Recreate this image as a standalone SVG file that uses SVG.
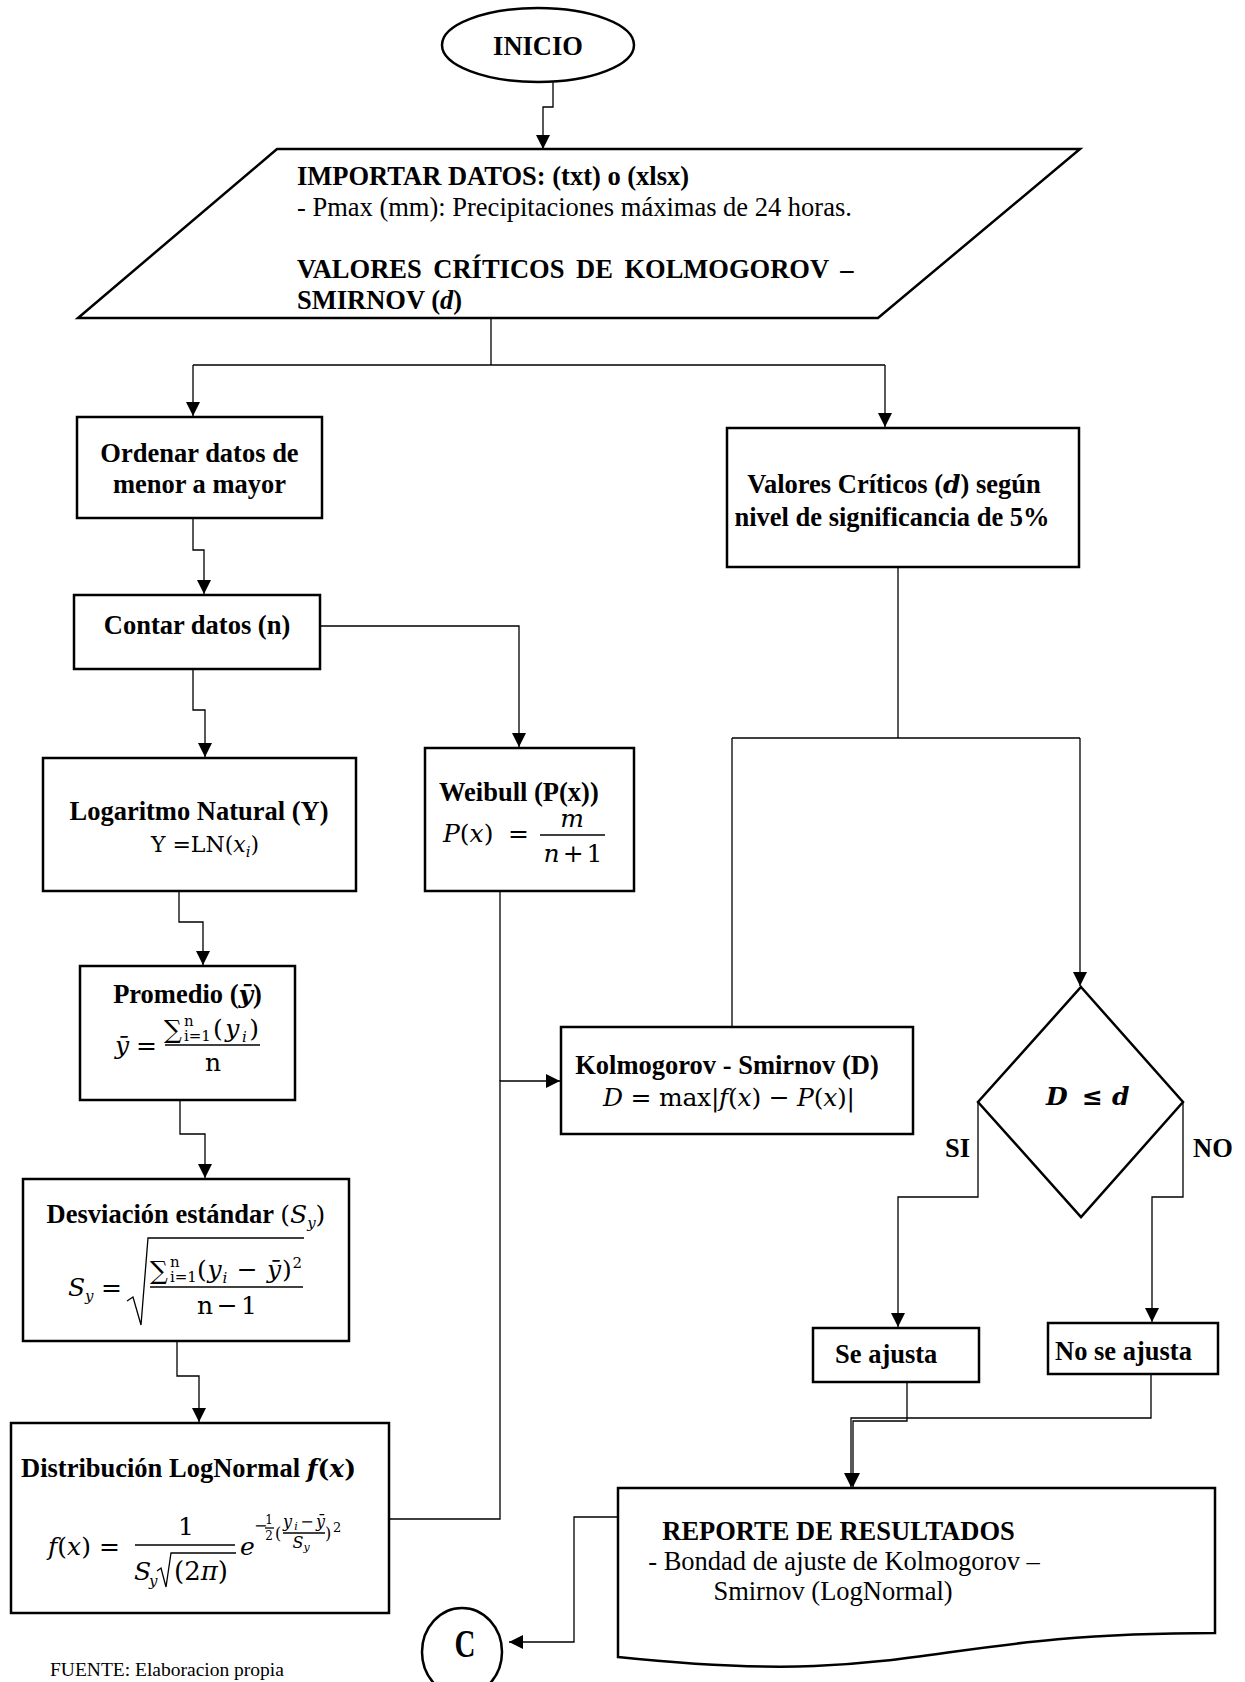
<svg xmlns="http://www.w3.org/2000/svg" width="1245" height="1682" viewBox="0 0 1245 1682">
<defs>
<style>
.shape{fill:#fff;stroke:#000;stroke-width:2.5}
.wire{fill:none;stroke:#000;stroke-width:1.3}
.rule{fill:none;stroke:#000;stroke-width:1.3}
text{font-family:"Liberation Serif","Times New Roman",serif;font-size:26.5px;fill:#000}
.b{font-weight:bold}
.m{font-family:"DejaVu Serif",serif;font-size:25px}
.i{font-style:italic}
.bi{font-weight:bold;font-style:italic}
.s{font-size:15px}
.c{text-anchor:middle}
</style>
<marker id="arrow" markerUnits="userSpaceOnUse" markerWidth="14" markerHeight="14" refX="14" refY="7" orient="auto">
<path d="M0,0 L14,7 L0,14 Z" fill="#000"/>
</marker>
</defs>
<rect width="1245" height="1682" fill="#fff"/>

<!-- connectors -->
<g id="connectors" class="wire">
<path d="M553,81 V107 H543 V149" marker-end="url(#arrow)"/>
<path d="M491,318 V365"/>
<path d="M193,365 H885"/>
<path d="M193,365 V416" marker-end="url(#arrow)"/>
<path d="M885,365 V427" marker-end="url(#arrow)"/>
<path d="M193,518 V550 H204 V594" marker-end="url(#arrow)"/>
<path d="M320,626 H519 V747" marker-end="url(#arrow)"/>
<path d="M193,669 V710 H205 V757" marker-end="url(#arrow)"/>
<path d="M179,891 V922 H203 V965" marker-end="url(#arrow)"/>
<path d="M180,1100 V1134 H205 V1178" marker-end="url(#arrow)"/>
<path d="M177,1341 V1376 H199 V1422" marker-end="url(#arrow)"/>
<path d="M500,891 V1081"/>
<path d="M389,1519 H500 V1081 H560" marker-end="url(#arrow)"/>
<path d="M898,567 V738"/>
<path d="M732,738 H1080"/>
<path d="M732,738 V1027"/>
<path d="M1080,738 V986" marker-end="url(#arrow)"/>
<path d="M978,1102 V1197 H898 V1327" marker-end="url(#arrow)"/>
<path d="M1183,1102 V1197 H1152 V1322" marker-end="url(#arrow)"/>
<path d="M907,1382 V1421 H853 V1487" marker-end="url(#arrow)"/>
<path d="M1151,1374 V1418 H851 V1487" marker-end="url(#arrow)"/>
<path d="M618,1517 H574 V1642 H509" marker-end="url(#arrow)"/>
</g>

<!-- start terminal -->
<g id="inicio">
<ellipse class="shape" cx="538" cy="45" rx="96" ry="37"/>
<text class="b c" x="538" y="55">INICIO</text>
</g>

<!-- data input -->
<g id="importar">
<polygon class="shape" points="277,149 1080,149 878,318 78,318"/>
<text class="b" x="297" y="185">IMPORTAR DATOS: (txt) o (xlsx)</text>
<text x="297" y="216">- Pmax (mm): Precipitaciones máximas de 24 horas.</text>
<text class="b" x="297" y="278" word-spacing="5">VALORES CRÍTICOS DE KOLMOGOROV –</text>
<text class="b" x="297" y="309">SMIRNOV (<tspan class="bi">d</tspan>)</text>
</g>

<g id="ordenar">
<rect class="shape" x="77" y="417" width="245" height="101"/>
<text class="b c" x="199.5" y="462">Ordenar datos de</text>
<text class="b c" x="199.5" y="493">menor a mayor</text>
</g>

<g id="contar">
<rect class="shape" x="74" y="595" width="246" height="74"/>
<text class="b c" x="197" y="634">Contar datos (n)</text>
</g>

<g id="logaritmo">
<rect class="shape" x="43" y="758" width="313" height="133"/>
<text class="b c" x="199" y="820">Logaritmo Natural (Y)</text>
<text class="m c" x="205" y="852" style="font-size:22px">Y =LN(<tspan class="i">x</tspan><tspan class="s i" dy="5">i</tspan><tspan dy="-5">)</tspan></text>
</g>

<g id="weibull">
<rect class="shape" x="425" y="748" width="209" height="143"/>
<text class="b" x="439" y="801">Weibull (P(x))</text>
<text class="m" x="443" y="842"><tspan class="i">P</tspan>(<tspan class="i">x</tspan>)</text>
<text class="m" x="508" y="842">=</text>
<text class="m i c" x="572" y="827">m</text>
<line class="rule" x1="540" y1="835" x2="605" y2="835"/>
<text class="m c" x="573" y="862" textLength="59"><tspan class="i">n</tspan> + 1</text>
</g>

<g id="promedio">
<rect class="shape" x="80" y="966" width="215" height="134"/>
<text class="b c" x="187.5" y="1003">Promedio (<tspan class="m bi">ȳ</tspan>)</text>
<text class="m" x="115" y="1054" textLength="42"><tspan class="i">ȳ</tspan> =</text>
<text class="m" x="164" y="1038">∑</text>
<text class="m s" x="184" y="1026">n</text>
<text class="m s" x="184" y="1041">i=1</text>
<text class="m" x="213" y="1037" textLength="46">(<tspan class="i">y</tspan><tspan class="s i" dy="5">i</tspan><tspan dy="-5">)</tspan></text>
<line class="rule" x1="165" y1="1045" x2="260" y2="1045"/>
<text class="m c" x="213" y="1071">n</text>
</g>

<g id="desviacion">
<rect class="shape" x="23" y="1179" width="326" height="162"/>
<text class="c" x="186" y="1223"><tspan class="b">Desviación estándar </tspan><tspan class="m">(<tspan class="i">S</tspan><tspan class="s i" dy="5">y</tspan><tspan dy="-5">)</tspan></tspan></text>
<text class="m" x="68" y="1296" textLength="54"><tspan class="i">S</tspan><tspan class="s i" dy="5">y</tspan><tspan dy="-5"> =</tspan></text>
<path class="rule" d="M127,1301 L133,1297 L141,1325 L148,1238 H304" stroke-width="1.5"/>
<text class="m" x="150" y="1279">∑</text>
<text class="m s" x="170" y="1267">n</text>
<text class="m s" x="170" y="1282">i=1</text>
<text class="m" x="197" y="1278" textLength="105">(<tspan class="i">y</tspan><tspan class="s i" dy="5">i</tspan><tspan dy="-5"> − </tspan><tspan class="i">ȳ</tspan>)<tspan class="s" dy="-10">2</tspan></text>
<line class="rule" x1="150" y1="1287" x2="303" y2="1287"/>
<text class="m c" x="227" y="1314" textLength="60">n − 1</text>
</g>

<g id="lognormal">
<rect class="shape" x="11" y="1423" width="378" height="190"/>
<text x="21" y="1477"><tspan class="b">Distribución LogNormal </tspan><tspan class="m b"><tspan class="i">f</tspan>(<tspan class="i">x</tspan>)</tspan></text>
<text class="m" x="48" y="1555" textLength="72"><tspan class="i">f</tspan>(<tspan class="i">x</tspan>) =</text>
<text class="m c" x="186" y="1535">1</text>
<line class="rule" x1="135" y1="1545" x2="235" y2="1545"/>
<text class="m i" x="134" y="1580">S</text>
<text class="m i s" x="149" y="1586">y</text>
<path class="rule" d="M157,1571 L161,1568 L166,1587 L171,1553 H236" stroke-width="1.3"/>
<text class="m" x="174" y="1580" style="font-size:26px">(2<tspan class="i">π</tspan>)</text>
<text class="m i" x="240" y="1555">e</text>
<text class="m" x="254" y="1531" style="font-size:16px">−</text>
<text class="m c" x="269" y="1524" style="font-size:12px">1</text>
<line class="rule" x1="265" y1="1528" x2="274" y2="1528" stroke-width="0.9"/>
<text class="m c" x="269" y="1540" style="font-size:12px">2</text>
<text class="m" x="275" y="1539" style="font-size:16px">(</text>
<text class="m c" x="304" y="1527" style="font-size:16px" textLength="42"><tspan class="i">y</tspan><tspan class="i" dy="3" style="font-size:11px">i</tspan><tspan dy="-3">−</tspan><tspan class="i">ȳ</tspan></text>
<line class="rule" x1="283" y1="1533" x2="325" y2="1533" stroke-width="0.9"/>
<text class="m c" x="301" y="1548" style="font-size:16px"><tspan class="i">S</tspan><tspan class="i" dy="3" style="font-size:11px">y</tspan></text>
<text class="m" x="325" y="1539" style="font-size:16px">)</text>
<text class="m" x="333" y="1532" style="font-size:13px">2</text>
</g>

<g id="valores">
<rect class="shape" x="727" y="428" width="352" height="139"/>
<text class="b c" x="894" y="493">Valores Críticos (<tspan class="m bi">d</tspan>) según</text>
<text class="b c" x="892" y="526">nivel de significancia de 5%</text>
</g>

<g id="kolmogorov">
<rect class="shape" x="561" y="1027" width="352" height="107"/>
<text class="b c" x="727" y="1074">Kolmogorov - Smirnov (D)</text>
<text class="m c" x="729" y="1106" textLength="252"><tspan class="i">D</tspan> = max|<tspan class="i">f</tspan>(<tspan class="i">x</tspan>) − <tspan class="i">P</tspan>(<tspan class="i">x</tspan>)|</text>
</g>

<g id="decision">
<polygon class="shape" points="1081,987 1183,1102 1081,1217 978,1102"/>
<text class="m bi" x="1046" y="1105">D</text>
<text class="m b" x="1082" y="1105">≤</text>
<text class="m bi" x="1112" y="1105">d</text>
<text class="b" x="945" y="1157">SI</text>
<text class="b" x="1193" y="1157">NO</text>
</g>

<g id="se-ajusta">
<rect class="shape" x="813" y="1328" width="166" height="54"/>
<text class="b" x="835" y="1363">Se ajusta</text>
</g>

<g id="no-se-ajusta">
<rect class="shape" x="1048" y="1323" width="170" height="51"/>
<text class="b" x="1055" y="1360">No se ajusta</text>
</g>

<g id="reporte">
<path class="shape" d="M618,1488 H1215 V1633 C916.5,1633 916.5,1688.5 618,1657 Z"/>
<text class="b c" x="838.5" y="1540">REPORTE DE RESULTADOS</text>
<text class="c" x="844" y="1570">- Bondad de ajuste de Kolmogorov –</text>
<text class="c" x="833" y="1600">Smirnov (LogNormal)</text>
</g>

<g id="conector-c">
<ellipse class="shape" cx="462" cy="1652" rx="40" ry="44"/>
<text class="b c" transform="translate(465,1657) scale(1,1.35)" x="0" y="0" style="font-size:29px">C</text>
</g>

<text x="50" y="1676" style="font-size:19.5px">FUENTE: Elaboracion propia</text>
</svg>
